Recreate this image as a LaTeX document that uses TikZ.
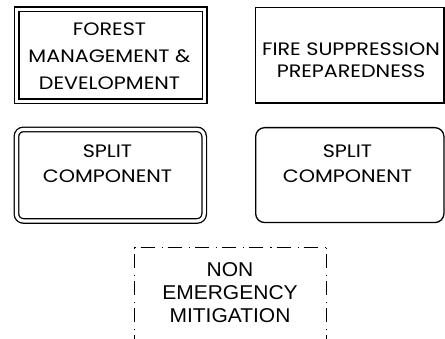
\documentclass[tikz,border=0pt]{standalone}
\usepackage{fontspec}
\newfontfamily\gothfont[FakeStretch=1.15]{Poppins}
\newfontfamily\arialfont[FakeStretch=1.05]{Liberation Sans}
\usepackage{tikz}

\tikzset{
	frame/.style={draw, line width=1.3pt, inner sep=0pt},
	dblframe/.style={frame, double, double distance=3.2pt},
	dashdotline/.style={line width=1pt, dash pattern=on 1.2pt off 5pt on 14pt off 7pt},
	boxtext/.style={align=center, inner sep=0pt, font=\gothfont\fontsize{18}{#1}\selectfont},
	boxtext/.default=25
}

\begin{document}
\begin{tikzpicture}[x=1pt, y=-1pt]
			%%%%% START %%%%%
			
			\useasboundingbox (0, 0) rectangle (445, 339);
			
			\node[dblframe, minimum width=188pt, minimum height=92pt] (forest) at (110.6, 55.4) {};
			\node[boxtext=27] (forestlbl) at (109.5, 56) {FOREST\\MANAGEMENT \&\\DEVELOPMENT};
			
			\node[frame, minimum width=188.3pt, minimum height=95.3pt] (fire) at (349.8, 55.3) {};
			\node[boxtext=22] (firelbl) at (351, 60) {FIRE SUPPRESSION\\PREPAREDNESS};
			
			\node[dblframe, rounded corners=7pt, minimum width=187.7pt, minimum height=91.5pt] (splitl) at (110.3, 175.2) {};
			\node[boxtext] (splitllbl) at (107.5, 164) {SPLIT\\COMPONENT};
			
			\node[frame, rounded corners=9pt, minimum width=188.3pt, minimum height=94.9pt] (splitr) at (349.8, 175.1) {};
			\node[boxtext] (splitrlbl) at (347.5, 164) {SPLIT\\COMPONENT};
			
			\node[inner sep=0pt, minimum width=192.2pt, minimum height=100pt] (nonem) at (230.6, 297.8) {};
			\draw[dashdotline] (nonem.north west) -- (nonem.north east);
			\draw[dashdotline] (nonem.north west) -- (nonem.south west);
			\draw[dashdotline] (nonem.north east) -- (nonem.south east);
			\node[align=center, inner sep=0pt, font=\arialfont\fontsize{20}{23}\selectfont] (nonemlbl) at (230, 293) {NON\\EMERGENCY\\MITIGATION};
			
			%%%%% END %%%%%
\end{tikzpicture}
\end{document}
